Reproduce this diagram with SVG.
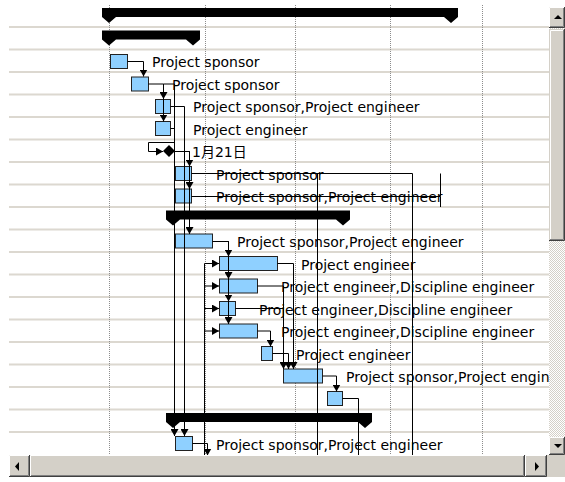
<svg xmlns="http://www.w3.org/2000/svg" width="565" height="482" viewBox="0 0 565 482">
<style>
.grid{fill:#dcd8d0}
.dot{stroke:#8c8c8c;stroke-width:1;stroke-dasharray:1 1;fill:none}
.task{fill:#8fd0ff;stroke:#222;stroke-width:1}
.sum{fill:#000}
.lbl{font-family:"DejaVu Sans","Noto Sans CJK JP",sans-serif;font-size:14px;fill:#000}
.ln{fill:none;stroke:#000;stroke-width:1}
.face{fill:#d4d0c8}
.hi{stroke:#fff;stroke-width:1;fill:none}
.sh{stroke:#808080;stroke-width:1;fill:none}
.dk{stroke:#404040;stroke-width:1;fill:none}
</style>
<defs>
<marker id="ah" viewBox="0 0 7 8" refX="7" refY="4" markerWidth="7" markerHeight="8" markerUnits="userSpaceOnUse" orient="auto"><path d="M0,0L7,4L0,8Z" fill="#000"/></marker>
<pattern id="dither" width="2" height="2" patternUnits="userSpaceOnUse"><rect width="2" height="2" fill="#fff"/><rect width="1" height="1" fill="#d4d0c8"/><rect x="1" y="1" width="1" height="1" fill="#d4d0c8"/></pattern>
</defs>
<rect width="565" height="482" fill="#fff"/>
<g id="grid">
<rect class="grid" x="9" y="26" width="540" height="2"/>
<rect class="grid" x="9" y="48.5" width="540" height="2"/>
<rect class="grid" x="9" y="71" width="540" height="2"/>
<rect class="grid" x="9" y="93.5" width="540" height="2"/>
<rect class="grid" x="9" y="116" width="540" height="2"/>
<rect class="grid" x="9" y="138.5" width="540" height="2"/>
<rect class="grid" x="9" y="161" width="540" height="2"/>
<rect class="grid" x="9" y="183.5" width="540" height="2"/>
<rect class="grid" x="9" y="206" width="540" height="2"/>
<rect class="grid" x="9" y="228.5" width="540" height="2"/>
<rect class="grid" x="9" y="251" width="540" height="2"/>
<rect class="grid" x="9" y="273.5" width="540" height="2"/>
<rect class="grid" x="9" y="296" width="540" height="2"/>
<rect class="grid" x="9" y="318.5" width="540" height="2"/>
<rect class="grid" x="9" y="341" width="540" height="2"/>
<rect class="grid" x="9" y="363.5" width="540" height="2"/>
<rect class="grid" x="9" y="386" width="540" height="2"/>
<rect class="grid" x="9" y="408.5" width="540" height="2"/>
<rect class="grid" x="9" y="431" width="540" height="2"/>
<path class="dot" d="M109.5,5V455M205.5,5V455M295.5,5V455M390.5,5V455M482.5,5V455"/>
</g>
<g id="sum0"><path class="sum" d="M102,8H458V17L451,23L444,17H116L109,23L102,17Z"/></g>
<g id="sum1"><path class="sum" d="M102,30.5H200V39.5L193,45.5L186,39.5H116L109,45.5L102,39.5Z"/></g>
<g id="t2"><rect class="task" x="110.5" y="54.5" width="17" height="14"/><text class="lbl" x="152" y="67">Project sponsor</text></g>
<g id="t3"><rect class="task" x="131.5" y="77" width="17" height="14"/><text class="lbl" x="172" y="89.5">Project sponsor</text></g>
<g id="t4"><rect class="task" x="155.5" y="99.5" width="15" height="14"/><text class="lbl" x="193" y="112">Project sponsor,Project engineer</text></g>
<g id="t5"><rect class="task" x="155.5" y="121.5" width="15" height="14"/><text class="lbl" x="193" y="134.5">Project engineer</text></g>
<g id="m6"><path d="M169,145L175,151L169,157L163,151Z" fill="#000"/><text class="lbl" x="192" y="157">1月21日</text></g>
<g id="t7"><rect class="task" x="175.5" y="166.5" width="16" height="14"/><text class="lbl" x="216" y="179.5">Project sponsor</text></g>
<g id="t8"><rect class="task" x="175.5" y="189" width="16" height="14"/><text class="lbl" x="216" y="202">Project sponsor,Project engineer</text></g>
<g id="sum9"><path class="sum" d="M166,210.5H350V219.5L343,225.5L336,219.5H180L173,225.5L166,219.5Z"/></g>
<g id="t10"><rect class="task" x="175.5" y="234" width="37" height="14"/><text class="lbl" x="237" y="247">Project sponsor,Project engineer</text></g>
<g id="t11"><rect class="task" x="219.5" y="256.5" width="58" height="14"/><text class="lbl" x="301" y="269.5">Project engineer</text></g>
<g id="t12"><rect class="task" x="219.5" y="279" width="38" height="14"/><text class="lbl" x="281" y="292">Project engineer,Discipline engineer</text></g>
<g id="t13"><rect class="task" x="219.5" y="301.5" width="16" height="14"/><text class="lbl" x="259" y="314.5">Project engineer,Discipline engineer</text></g>
<g id="t14"><rect class="task" x="219.5" y="324" width="38" height="14"/><text class="lbl" x="281" y="337">Project engineer,Discipline engineer</text></g>
<g id="t15"><rect class="task" x="261.5" y="346.5" width="11" height="14"/><text class="lbl" x="296" y="359.5">Project engineer</text></g>
<g id="t16"><rect class="task" x="283.5" y="369" width="39" height="14"/><text class="lbl" x="346" y="382">Project sponsor,Project engineer</text></g>
<g id="t17"><rect class="task" x="327.5" y="391.5" width="15" height="14"/></g>
<g id="sum18"><path class="sum" d="M166,413H372V422L365,428L358,422H180L173,428L166,422Z"/></g>
<g id="t19"><rect class="task" x="175.5" y="436.5" width="17" height="14"/><text class="lbl" x="216" y="449.5">Project sponsor,Project engineer</text></g>
<g id="connectors">
<path class="ln" d="M127.5,61.5H143.5V76.5" marker-end="url(#ah)"/>
<path class="ln" d="M148.5,84H163.5V99" marker-end="url(#ah)"/>
<path class="ln" d="M163.5,84V121.5" marker-end="url(#ah)"/>
<path class="ln" d="M163.5,84H174.5V436" marker-end="url(#ah)"/>
<path class="ln" d="M170.5,106.5H184.5V436" marker-end="url(#ah)"/>
<path class="ln" d="M170.5,128.5H174.5V142.5H148.5V151.5H163" marker-end="url(#ah)"/>
<path class="ln" d="M175,151.5H189.5V166.5" marker-end="url(#ah)"/>
<path class="ln" d="M189.5,151.5V189" marker-end="url(#ah)"/>
<path class="ln" d="M189.5,151.5V234" marker-end="url(#ah)"/>
<path class="ln" d="M191.5,173.5H412.5V455"/>
<path class="ln" d="M317.5,173.5V455"/>
<path class="ln" d="M191.5,196.5H440.5V173.5"/>
<path class="ln" d="M440.5,196.5V207"/>
<path class="ln" d="M212.5,241.5H228.5V256.5" marker-end="url(#ah)"/>
<path class="ln" d="M228.5,241.5V279" marker-end="url(#ah)"/>
<path class="ln" d="M228.5,241.5V301.5" marker-end="url(#ah)"/>
<path class="ln" d="M228.5,241.5V324" marker-end="url(#ah)"/>
<path class="ln" d="M204.5,263.5V455"/>
<path class="ln" d="M204.5,263.5H219" marker-end="url(#ah)"/>
<path class="ln" d="M204.5,286H219" marker-end="url(#ah)"/>
<path class="ln" d="M204.5,308.5H219" marker-end="url(#ah)"/>
<path class="ln" d="M204.5,331H219" marker-end="url(#ah)"/>
<path class="ln" d="M277.5,263.5H293.5V369" marker-end="url(#ah)"/>
<path class="ln" d="M257.5,286H283.5V369" marker-end="url(#ah)"/>
<path class="ln" d="M235.5,308.5H283.5"/>
<path class="ln" d="M257.5,331H270.5V346.5" marker-end="url(#ah)"/>
<path class="ln" d="M272.5,353.5H288.5V369" marker-end="url(#ah)"/>
<path class="ln" d="M322.5,376H336.5V391.5" marker-end="url(#ah)"/>
<path class="ln" d="M342.5,398.5H358.5V455"/>
<path class="ln" d="M192.5,443.5H207.5V455.5" marker-end="url(#ah)"/>
<path class="ln" d="M207,455.5H229"/>
</g>
<g id="vscroll">
<rect x="549" y="7" width="16" height="448" fill="url(#dither)"/>
<rect class="face" x="549" y="7" width="16" height="21"/>
<path class="hi" d="M549.5,27V7.5H564"/><path class="dk" d="M549,27.5H564.5V7"/><path class="sh" d="M550,26.5H563.5V8"/>
<path d="M554,19H562L558,15Z" fill="#000"/>
<rect class="face" x="549" y="29" width="16" height="212"/>
<path class="hi" d="M550.5,240V30.5H564"/><path class="dk" d="M549,240.5H564.5V29"/><path class="sh" d="M550,239.5H563.5V30"/>
<rect class="face" x="549" y="437" width="16" height="18"/>
<path class="hi" d="M549.5,454V437.5H564"/><path class="dk" d="M549,454.5H564.5V437"/><path class="sh" d="M550,453.5H563.5V438"/>
<path d="M554,444H562L558,448Z" fill="#000"/>
</g>
<g id="hscroll">
<rect class="face" x="9" y="455" width="556" height="22"/>
<path class="hi" d="M9.5,476V455.5H30"/><path class="dk" d="M9,476.5H29.5V455"/><path class="sh" d="M10,475.5H28.5V456"/>
<path d="M19,462V471L15,466.5Z" fill="#000"/>
<path class="hi" d="M30.5,476V455.5H525"/><path class="dk" d="M30,476.5H524.5V455"/><path class="sh" d="M31,475.5H523.5V456"/>
<path class="hi" d="M525.5,476V455.5H547"/><path class="dk" d="M525,476.5H546.5V455"/><path class="sh" d="M526,475.5H545.5V456"/>
<path d="M535,462V471L539,466.5Z" fill="#000"/>
</g>
</svg>
